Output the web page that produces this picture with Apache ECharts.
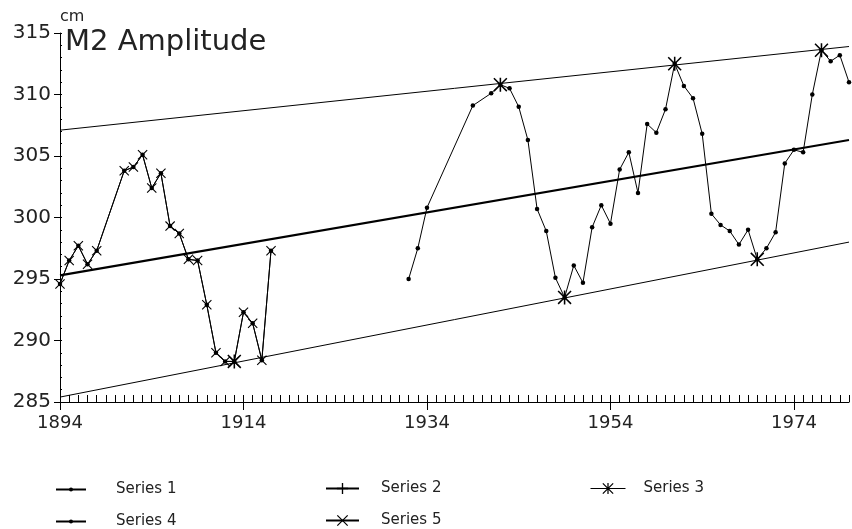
<!DOCTYPE html>
<html>
<head>
<meta charset="utf-8">
<title>M2 Amplitude</title>
<script src="https://cdn.jsdelivr.net/npm/echarts@6/dist/echarts.min.js"></script>
<style>
    html, body { margin: 0; padding: 0; background: #fff; }
    #chart { width: 852px; height: 529px; }
</style>
</head>
<body>
<div id="chart"></div>
<script>
// Annual values (cm)
const earlyYears = [1894, 1895, 1896, 1897, 1898, 1901, 1902, 1903, 1904, 1905, 1906,
    1907, 1908, 1909, 1910, 1911, 1912, 1913, 1914, 1915, 1916, 1917];
const earlyValues = [294.6, 296.5, 297.7, 296.2, 297.3, 303.8, 304.1, 305.1, 302.4, 303.6, 299.3,
    298.7, 296.6, 296.5, 292.9, 289.0, 288.3, 288.3, 292.3, 291.4, 288.4, 297.3];

const laterYears = [1932, 1933, 1934, 1939, 1941, 1942, 1943, 1944, 1945, 1946, 1947, 1948,
    1949, 1950, 1951, 1952, 1953, 1954, 1955, 1956, 1957, 1958, 1959, 1960,
    1961, 1962, 1963, 1964, 1965, 1966, 1967, 1968, 1969, 1970, 1971, 1972,
    1973, 1974, 1975, 1976, 1977, 1978, 1979, 1980];
const laterValues = [295.0, 297.5, 300.8, 309.1, 310.1, 310.8, 310.5, 309.0, 306.3, 300.7, 298.9, 295.1,
    293.5, 296.1, 294.7, 299.2, 301.0, 299.5, 303.9, 305.3, 302.0, 307.6, 306.9, 308.8,
    312.5, 310.7, 309.7, 306.8, 300.3, 299.4, 298.9, 297.8, 299.0, 296.6, 297.5, 298.8,
    304.4, 305.5, 305.3, 310.0, 313.6, 312.7, 313.2, 311.0];

// Extremes marked with asterisks
const starYears = [1913, 1942, 1949, 1961, 1970, 1977];
const starValues = [288.3, 310.8, 293.5, 312.5, 296.6, 313.6];

// Trend line and envelope end points
const trendYears = [1894, 1980];
const centerTrend = [295.3, 306.3];
const upperTrend = [307.1, 313.9];
const lowerTrend = [285.4, 298.0];

const xTickLabels = [1894, 1914, 1934, 1954, 1974];
const seriesNames = ['Series 1', 'Series 2', 'Series 3', 'Series 4', 'Series 5'];

const FONT = 'DejaVu Sans';
const INK = '#000';
const TEXT = '#222';

// Thin filled shapes for the stroked-looking markers
const PLUS_PATH = 'path://M-0.6,-5L0.6,-5L0.6,5L-0.6,5ZM-5,-0.6L5,-0.6L5,0.6L-5,0.6Z';
const CROSS_PATH = 'path://M-4.58,-5.42L5.42,4.58L4.58,5.42L-5.42,-4.58Z' +
    'M4.58,-5.42L5.42,-4.58L-4.58,5.42L-5.42,4.58Z';
const STAR_PATH = 'path://M-0.6,-5.4L0.6,-5.4L0.6,5.4L-0.6,5.4Z' +
    'M-4.58,-5.42L5.42,4.58L4.58,5.42L-5.42,-4.58Z' +
    'M4.58,-5.42L5.42,-4.58L-4.58,5.42L-5.42,4.58Z';

function pairs(xs, ys) {
    return xs.map((x, i) => [x, ys[i]]);
}

// All measured points, with a break over the 1918-1931 gap
const allPoints = pairs(earlyYears, earlyValues)
    .concat([[1925, null]])
    .concat(pairs(laterYears, laterValues));

function lineSeries(name, data, extra) {
    return Object.assign({
        name: name,
        type: 'line',
        data: data,
        color: INK,
        lineStyle: { color: INK, width: 1 },
        itemStyle: { color: INK, borderWidth: 0 },
        connectNulls: false,
        animation: false,
        emphasis: { disabled: true }
    }, extra || {});
}

// One legend box per entry so the 3 + 2 grid can be placed freely.
// Legend symbols are drawn at 80% of itemHeight, so itemHeight sets the marker size.
function legendAt(name, left, top, width, height, gap, extra) {
    return Object.assign({
        data: [name],
        left: left,
        top: top,
        orient: 'horizontal',
        itemWidth: width,
        itemHeight: height,
        selectedMode: false,
        textStyle: { fontFamily: FONT, fontSize: 15, color: TEXT, padding: [0, 0, 0, gap] }
    }, extra || {});
}

const chart = echarts.init(document.getElementById('chart'), null, { renderer: 'canvas' });

const option = {
    backgroundColor: '#fff',
    animation: false,
    title: {
        text: 'M2 Amplitude',
        left: 65,
        top: 28,
        padding: 0,
        textStyle: { fontFamily: FONT, fontSize: 29, fontWeight: 'normal', color: TEXT }
    },
    grid: { left: 60, right: 3, top: 33, bottom: 127, containLabel: false },
    legend: [
        legendAt('Series 1', 50, 477, 30, 5, 25),
        legendAt('Series 2', 320, 476, 33, 14, 17),
        legendAt('Series 3', 585, 476, 35, 14, 13, { lineStyle: { color: INK, width: 1, opacity: 1 } }),
        legendAt('Series 4', 50, 509, 30, 5, 25),
        legendAt('Series 5', 320, 508, 33, 14, 17)
    ],
    xAxis: [
        {
            type: 'value',
            position: 'bottom',
            min: trendYears[0],
            max: trendYears[1],
            interval: 20,
            axisLine: { show: true, lineStyle: { color: INK, width: 1 } },
            axisTick: { show: true, inside: false, length: 8, lineStyle: { color: INK } },
            axisLabel: {
                show: true,
                margin: 12,
                showMaxLabel: false,
                fontFamily: FONT,
                fontSize: 18,
                color: TEXT,
                formatter: (v) => (xTickLabels.indexOf(v) >= 0 ? String(v) : '')
            },
            splitLine: { show: false }
        },
        {
            // yearly minor ticks, pointing into the plot
            type: 'value',
            position: 'bottom',
            min: trendYears[0],
            max: trendYears[1],
            interval: 1,
            axisLine: { show: false },
            axisTick: { show: true, inside: true, length: 7, lineStyle: { color: INK } },
            axisLabel: { show: false },
            splitLine: { show: false }
        }
    ],
    yAxis: [
        {
            type: 'value',
            position: 'left',
            min: 285,
            max: 315,
            interval: 5,
            name: 'cm',
            nameLocation: 'end',
            nameGap: 8,
            nameTextStyle: { fontFamily: FONT, fontSize: 16, color: TEXT, align: 'left', verticalAlign: 'bottom' },
            axisLine: { show: true, lineStyle: { color: INK, width: 1 } },
            axisTick: { show: true, inside: false, length: 6, lineStyle: { color: INK } },
            axisLabel: { margin: 9, fontFamily: FONT, fontSize: 20, color: TEXT },
            splitLine: { show: false }
        },
        {
            type: 'value',
            position: 'left',
            min: 285,
            max: 315,
            interval: 1,
            axisLine: { show: false },
            axisTick: { show: true, inside: true, length: 2, lineStyle: { color: INK } },
            axisLabel: { show: false },
            splitLine: { show: false }
        }
    ],
    series: [
        lineSeries(seriesNames[0], allPoints, {
            symbol: 'circle', symbolSize: 4.5, showSymbol: true, z: 3
        }),
        lineSeries(seriesNames[1], pairs(trendYears, upperTrend), {
            symbol: PLUS_PATH, symbolSize: 11, showSymbol: false, z: 2
        }),
        lineSeries(seriesNames[1], pairs(trendYears, lowerTrend), {
            symbol: PLUS_PATH, symbolSize: 11, showSymbol: false, z: 2
        }),
        lineSeries(seriesNames[2], pairs(starYears, starValues), {
            symbol: STAR_PATH, symbolSize: 14, showSymbol: true, z: 5,
            lineStyle: { color: INK, width: 1, opacity: 0 }
        }),
        lineSeries(seriesNames[3], pairs(trendYears, centerTrend), {
            symbol: 'circle', symbolSize: 4, showSymbol: false, z: 2,
            lineStyle: { color: INK, width: 2.2 }
        }),
        lineSeries(seriesNames[4], pairs(earlyYears, earlyValues), {
            symbol: CROSS_PATH, symbolSize: 10, showSymbol: true, z: 4
        })
    ]
};

chart.setOption(option);
console.log('[M2Chart] rendered', allPoints.length, 'points');
</script>
</body>
</html>
